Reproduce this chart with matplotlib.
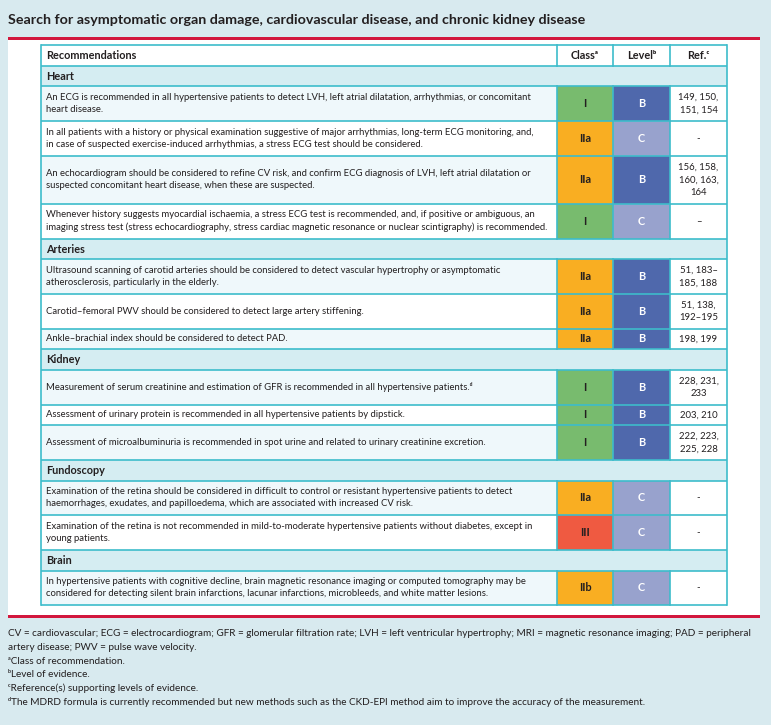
import matplotlib
matplotlib.use("Agg")
import matplotlib.pyplot as plt
from matplotlib.patches import Rectangle

plt.rcParams['font.family'] = ['Lato', 'DejaVu Sans']

title = "Search for asymptomatic organ damage, cardiovascular disease, and chronic kidney disease"
header = ["Recommendations", "Class\u1d43", "Level\u1d47", "Ref.\u1d9c"]

sections = ["Heart", "Arteries", "Kidney", "Fundoscopy", "Brain"]
row_section = [0, 0, 0, 0, 1, 1, 1, 2, 2, 2, 3, 3, 4]
recommendations = [
    "An ECG is recommended in all hypertensive patients to detect LVH, left atrial dilatation, arrhythmias, or concomitant\nheart disease.",
    "In all patients with a history or physical examination suggestive of major arrhythmias, long-term ECG monitoring, and,\nin case of suspected exercise-induced arrhythmias, a stress ECG test should be considered.",
    "An echocardiogram should be considered to refine CV risk, and confirm ECG diagnosis of LVH, left atrial dilatation or\nsuspected concomitant heart disease, when these are suspected.",
    "Whenever history suggests myocardial ischaemia, a stress ECG test is recommended, and, if positive or ambiguous, an\nimaging stress test (stress echocardiography, stress cardiac magnetic resonance or nuclear scintigraphy) is recommended.",
    "Ultrasound scanning of carotid arteries should be considered to detect vascular hypertrophy or asymptomatic\natherosclerosis, particularly in the elderly.",
    "Carotid\u2013femoral PWV should be considered to detect large artery stiffening.",
    "Ankle\u2013brachial index should be considered to detect PAD.",
    "Measurement of serum creatinine and estimation of GFR is recommended in all hypertensive patients.\u1d48",
    "Assessment of urinary protein is recommended in all hypertensive patients by dipstick.",
    "Assessment of microalbuminuria is recommended in spot urine and related to urinary creatinine excretion.",
    "Examination of the retina should be considered in difficult to control or resistant hypertensive patients to detect\nhaemorrhages, exudates, and papilloedema, which are associated with increased CV risk.",
    "Examination of the retina is not recommended in mild-to-moderate hypertensive patients without diabetes, except in\nyoung patients.",
    "In hypertensive patients with cognitive decline, brain magnetic resonance imaging or computed tomography may be\nconsidered for detecting silent brain infarctions, lacunar infarctions, microbleeds, and white matter lesions.",
]
classes = ["I", "IIa", "IIa", "I", "IIa", "IIa", "IIa", "I", "I", "I", "IIa", "III", "IIb"]
levels = ["B", "C", "B", "C", "B", "B", "B", "B", "B", "B", "C", "C", "C"]
refs = [
    "149, 150,\n151, 154", "-", "156, 158,\n160, 163,\n164", "\u2013",
    "51, 183\u2013\n185, 188", "51, 138,\n192\u2013195", "198, 199",
    "228, 231,\n233", "203, 210", "222, 223,\n225, 228",
    "-", "-", "-",
]
footnotes = [
    "CV = cardiovascular; ECG = electrocardiogram; GFR = glomerular filtration rate; LVH = left ventricular hypertrophy; MRI = magnetic resonance imaging; PAD = peripheral",
    "artery disease; PWV = pulse wave velocity.",
    "\u1d43Class of recommendation.",
    "\u1d47Level of evidence.",
    "\u1d9cReference(s) supporting levels of evidence.",
    "\u1d48The MDRD formula is currently recommended but new methods such as the CKD-EPI method aim to improve the accuracy of the measurement.",
]

# styles
BG = "#d8eaef"
RED = "#d2173d"
GRID = "#3dbccb"
SEC = "#d5edf2"
LIGHT = "#eff8fb"
class_colors = {"I": "#78bb6e", "IIa": "#f9ae22", "IIb": "#f9ae22", "III": "#ef5a41"}
level_colors = {"B": "#4f68ac", "C": "#98a2cd"}
TXT = "#231f20"

W, H = 771, 725
fig = plt.figure(figsize=(W / 100, H / 100), dpi=100, facecolor=BG)
ax = fig.add_axes([0, 0, 1, 1])
ax.set_xlim(0, W)
ax.set_ylim(H, 0)
ax.axis("off")

# white panel + red rules
ax.add_patch(Rectangle((8, 39), 752, 577, facecolor="white", edgecolor="none"))
ax.add_patch(Rectangle((8, 37), 752, 3, facecolor=RED, edgecolor="none"))
ax.add_patch(Rectangle((8, 615), 752, 3, facecolor=RED, edgecolor="none"))

ax.text(8, 20, title, fontsize=10.3, fontweight="bold", color=TXT, va="center", ha="left")

cols = [41, 557, 613, 670, 727]
FS = 6.85
LS = 1.44
FS_REF = 6.9
LS_REF = 1.49
FS_HEAD = 7.8
FS_CLS = 7.8


def row_h(n):
    return 6.8 + 13.9 * n


y = 45.0
# header
h = row_h(1)
ax.add_patch(Rectangle((cols[0], y), cols[4] - cols[0], h, facecolor="white", edgecolor="none"))
ax.text(cols[0] + 5, y + h / 2, header[0], fontsize=FS_HEAD, fontweight="bold", color=TXT, va="center")
for i in range(1, 4):
    ax.text((cols[i] + cols[i + 1]) / 2, y + h / 2, header[i], fontsize=FS_HEAD, fontweight="bold",
            color=TXT, va="center", ha="center")
hlines = [y, y + h]
y += h

prev_sec = -1
alt = 0
for r in range(len(recommendations)):
    s = row_section[r]
    if s != prev_sec:
        h = row_h(1)
        ax.add_patch(Rectangle((cols[0], y), cols[4] - cols[0], h, facecolor=SEC, edgecolor="none"))
        ax.text(cols[0] + 5, y + h / 2, sections[s], fontsize=FS_HEAD, fontweight="bold", color=TXT, va="center")
        y += h
        hlines.append(y)
        prev_sec = s
        alt = 0
    n = max(recommendations[r].count("\n"), refs[r].count("\n")) + 1
    h = row_h(n)
    fill = LIGHT if alt % 2 == 0 else "white"
    ax.add_patch(Rectangle((cols[0], y), cols[1] - cols[0], h, facecolor=fill, edgecolor="none"))
    ax.add_patch(Rectangle((cols[1], y), cols[2] - cols[1], h, facecolor=class_colors[classes[r]], edgecolor="none"))
    ax.add_patch(Rectangle((cols[2], y), cols[3] - cols[2], h, facecolor=level_colors[levels[r]], edgecolor="none"))
    ax.add_patch(Rectangle((cols[3], y), cols[4] - cols[3], h, facecolor="white", edgecolor="none"))
    yc = y + h / 2
    ax.text(cols[0] + 5, yc, recommendations[r], fontsize=FS, color=TXT, va="center", ha="left", linespacing=LS)
    ax.text((cols[1] + cols[2]) / 2, yc, classes[r], fontsize=FS_CLS, fontweight="bold", color=TXT,
            va="center", ha="center")
    ax.text((cols[2] + cols[3]) / 2, yc, levels[r], fontsize=FS_CLS, fontweight="bold", color="white",
            va="center", ha="center")
    ax.text((cols[3] + cols[4]) / 2, yc, refs[r], fontsize=FS_REF, color=TXT, va="center", ha="center",
            linespacing=LS_REF, multialignment="center")
    y += h
    hlines.append(y)
    alt += 1

top, bottom = hlines[0], hlines[-1]
for yy in hlines:
    ax.plot([cols[0], cols[4]], [yy, yy], color=GRID, lw=1.2, solid_capstyle="butt")
ax.plot([cols[0], cols[0]], [top, bottom], color=GRID, lw=1.2)
ax.plot([cols[4], cols[4]], [top, bottom], color=GRID, lw=1.2)

# vertical separators only for header and data rows (not section rows)
rows_spans = []
y0 = 45.0
h = row_h(1)
rows_spans.append((y0, y0 + h))
y0 += h
prev_sec = -1
for r in range(len(recommendations)):
    s = row_section[r]
    if s != prev_sec:
        y0 += row_h(1)
        prev_sec = s
    n = max(recommendations[r].count("\n"), refs[r].count("\n")) + 1
    h = row_h(n)
    rows_spans.append((y0, y0 + h))
    y0 += h
for a, b in rows_spans:
    for c in cols[1:4]:
        ax.plot([c, c], [a, b], color=GRID, lw=1.2)

fy = 634
for i, line in enumerate(footnotes):
    ax.text(8, fy + i * 13.6, line, fontsize=7.2, color=TXT, va="center", ha="left")

fig.savefig("out.png", dpi=100, facecolor=BG)
